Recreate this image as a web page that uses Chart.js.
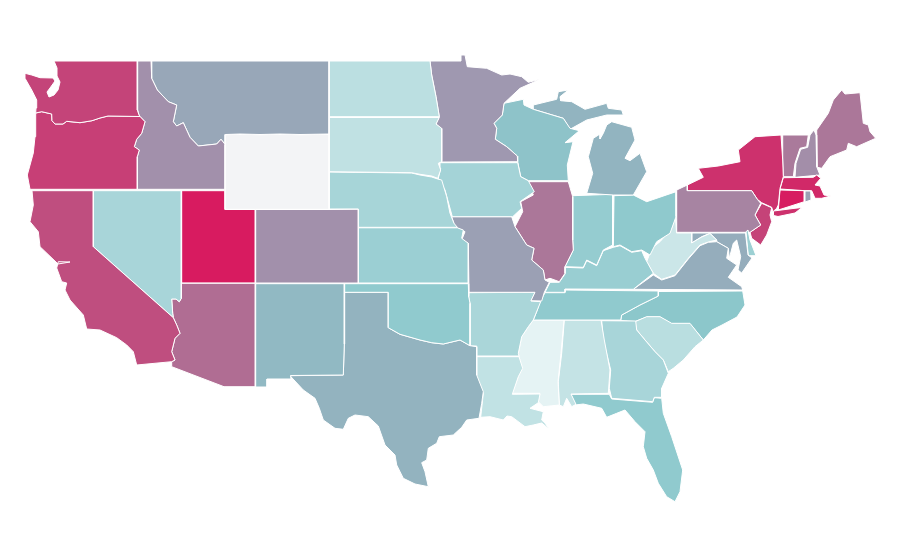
<!DOCTYPE html>
<html>
<head>
<meta charset="utf-8">
<title>US states</title>
<script src="https://cdn.jsdelivr.net/npm/chart.js@4"></script>
<style>
  html, body { margin: 0; padding: 0; background: #fff; }
  #wrap { width: 900px; height: 560px; }
</style>
</head>
<body>
<div id="wrap"><canvas id="map" width="900" height="560"></canvas></div>
<script>
// values, one per state (0-100 on the colour ramp)
const stateNames = ['WA','OR','CA','ID','NV','AZ','UT','MT','WY','CO','NM','ND','SD','NE','KS','OK','TX','MN','IA','MO','AR','LA','WI','IL','MI','IN','OH','KY','TN','MS','AL','GA','FL','SC','NC','VA','WV','MD','DE','PA','NY','NJ','CT','RI','MA','VT','NH','ME'];
const stateValues = [85,87,82,60,30.6,73,100,52.6,0,60,46,24,22.5,31,35,38.7,48.4,57.5,32,55,30,22,42,70,48,37,39,35.6,38.7,10,21,30.6,38.7,25,40.4,50.5,18.8,50.5,34.6,65,92,85.5,99.6,55,95,69,61,70];

// colour ramp
const rampValues = [0,10,40,50,60,70,85,100];
const rampColors = ['#f3f4f6','#e5f3f4','#8cc8cc','#94afbd','#a290ab','#ab7799','#c44479','#d81b60'];

// state outlines in map units, x,y,x,y...
const stateRings = {
  WA: [[54,61,137.3,61,137.3,110,139,115,140,116.5,108,116,100,118,92,120.7,80,122.7,66.7,121.3,63,124,55,124,52,120.7,51.7,114,41.7,111.7,35.7,113,36,108,36.7,100,31.7,90,25,78.3,25,73.3,31.7,75,40,77.7,53,78,55,81,50,88,47,92,49,97,54,95,58,90,60,82,57,76,57,68]],
  OR: [[35.7,113,41.7,111.7,51.7,114,52,120.7,55,124,63,124,66.7,121.3,80,122.7,92,120.7,100,118,108,116,140,116.5,145,121.7,141.7,133.3,136.7,139.3,134.3,146.7,139.3,150,137.3,156.7,137.3,189.3,30,189.3,27.3,175,33.3,153,35,136.7]],
  CA: [[32,190.7,93.3,190.7,93.3,246.7,173.3,317.7,176.7,325,180,333.3,175,338.3,171.7,351.7,175,360,171.7,361.7,136.7,365,133.3,351.7,126.7,345,116.7,337.7,100,330,86.7,329,83.3,315,70,300,65,290,66.7,283,61.7,281.7,56.7,268,58.3,261.7,70,262,58,264,56,262,40,246.7,38.3,231.7,30,221.7,33.3,205]],
  ID: [[137.7,61,151,61,151.7,78.3,157.3,90,168.3,101.7,176.7,105,173.3,121.7,176.7,126,183.3,122.7,190,137.3,198.3,146,216.7,144,221,139.3,225,144.3,225,189.3,137.3,189.3,137.3,156.7,139.3,150,134.3,146.7,136.7,139.3,141.7,133.3,145,121.7,140,116.5,139,115,137.7,110]],
  NV: [[93.3,190.7,181.3,190.7,181.3,298.3,179.3,301.7,176,299,171.7,299,172.7,313.3,173.3,317.7,93.3,246.7]],
  AZ: [[181.3,283.3,255.3,283.3,255.3,386.7,224,386.7,171.7,366.7,171.7,361.7,175,360,171.7,351.7,175,338.3,180,333.3,176.7,325,173.3,317.7,172.7,313.3,171.7,299,176,299,179.3,301.7,181.3,298.3]],
  UT: [[181.7,190.7,225,190.7,225,209.5,255.3,209.5,255.3,283,181.7,283]],
  MT: [[151,61,329,61,329,134,300,134.5,280,134,260,134.5,240,134,225.3,134.5,225,144.3,221,139.3,216.7,144,198.3,146,190,137.3,183.3,122.7,176.7,126,173.3,121.7,176.7,105,168.3,101.7,157.3,90,151.7,78.3]],
  WY: [[225.3,134.8,240,134.3,260,134.8,280,134.3,300,134.8,329,134.3,329,209.3,225.3,209.3]],
  CO: [[255.7,209.5,329,209.5,358.3,209.3,358.3,283,255.7,283]],
  NM: [[255.7,283.7,344.3,283.7,344.3,344,343.3,375,290.5,375.5,291,379,267,379,267,387,255.7,387]],
  ND: [[329.3,61,430,61,431.7,75,436,96.7,439.3,116.7,329.3,116.7]],
  SD: [[329.3,117.5,439.3,117.5,436,124,441.7,128.3,441.7,161.7,438.3,163.3,440.7,170,437.7,178.3,431.7,176,420,174.3,411.7,172.7,329.3,171.7]],
  NE: [[329.3,172,411.7,173,420,175,431.7,177,437.7,179,441.7,180,446.7,196.7,450,213.3,454,223.3,457.3,227.3,358.3,227.3,358.3,209,329.3,209]],
  KS: [[358.3,227.8,457.3,227.8,463.3,230,461.7,238.3,468.3,243.3,468.3,283,358.3,283]],
  OK: [[344.7,283.7,468.3,283.7,468.7,296.7,470,303.3,470,345.7,460,340,443.3,344,431.7,342.7,420,340,400,334.3,388.3,327.7,388.3,292.3,344.7,292.3]],
  TX: [[344.7,292.3,388.3,292.3,388.3,327.7,400,334.3,420,340,431.7,342.7,443.3,344,460,340,470,345.7,476.7,346.7,476.7,375,483.3,391.7,481.7,403.3,479,418.3,466.7,420,461.7,427.3,453.3,435,439.3,436.7,436.7,443.3,428.3,448.3,426.7,460,421.7,462.7,425,471.7,428.3,486.7,415,484,403.3,478.3,396.7,465,395,455,385,445,378.3,426,368.3,416.7,355,415,348.3,418.3,343.3,429.3,335,428.3,323.3,420,319.3,408.3,315,398.3,303.3,390,290,375.7,343.3,375,344.3,344]],
  MN: [[430,61,461,61,461,55,465,55,467.3,66.7,486.7,68.3,501.7,75,510,74,521.7,76.7,528.3,82.3,540,79.3,520,88.3,504,103.3,502.3,115,494,123.3,496.7,128.3,495.3,139.3,506.7,146.7,517.3,156,517.7,161.7,441.7,162,441.7,129,436,124,439.3,116.7,436,96.7,431.7,75]],
  IA: [[440,162.7,517.7,162.7,520.7,176.7,528.3,180.7,534.3,191.7,520,201.7,521.7,208.3,512.7,216.7,452.3,216.7,445,190,438.3,178.3,440.7,168.3]],
  MO: [[451.7,216.7,511.7,216.7,515,226.7,526.7,245,534,248.3,531.7,260,543.3,270,545,280,549.3,282.3,544.3,292.3,541.7,301,531,300.7,535,292.3,469,292.3,468.3,243.3,461.7,240,465,231.7,455,226.7]],
  AR: [[469,292.7,535,292.3,531,301,540.7,301.7,533.3,320,528.3,326.7,521.7,336.7,518.3,353.3,519,356,476.7,356,476.7,346,470,346,470,303.3,468.7,296.7]],
  LA: [[476.7,356.7,519,356.7,522.7,368.3,518.3,376.7,512.3,394.3,540,394,538.3,402.7,530,408.3,543.3,411.7,541.7,420,545,423,549.3,429.3,541.7,423,533.3,425,525,426.7,511.7,416.7,507,416,503.3,420,490,416.7,480.7,417.3,483.3,393.3,476.7,376.7]],
  WI: [[504,103.3,523.3,99.3,524,105,533.3,109.3,563.3,118.3,570,128.3,579.3,130.7,565,142.7,573,141.7,567.3,165,568.3,180.7,528.3,180.7,520.7,176.7,517.7,161.7,517.3,156,506.7,146.7,495.3,139.3,496.7,128.3,494,123.3,502.3,115]],
  IL: [[528.3,181.7,568.3,181.7,572.7,196.7,572.7,240,573.3,250,565,266.7,565,273.3,559.3,281.7,550,278.3,545,280,543.3,270,531.7,260,534,248.3,526.7,245,515,226.7,522.7,211.7,520.7,201.7,533.3,195]],
  MI: [[533.3,105,556.7,99.3,558.3,91.7,568.3,90,560,96.7,560.7,100.7,571.7,101.7,585,109.3,606.7,103.3,608.3,108.3,621.7,110,623.3,115,606.7,115,586.7,120,570,129.3,563.3,118.3,533.3,109.3],
       [611.7,121.7,631.7,127.3,635,140,625,158.3,630,160.7,640,153.3,646.7,171.7,633.3,195,613.3,195,586.7,193.3,592.7,173.3,588.3,156.7,593.3,138.3,600,134,600,139,603.3,133.3,606.7,125]],
  IN: [[572.7,195.7,612.7,194.3,612.7,245,603.3,250,596.7,265,586.7,260,583.3,267.3,565,266.7,573.3,250,572.7,240]],
  OH: [[614,195.7,633.3,195,646.7,201.7,676,191.7,676,216.7,670,233.3,656.7,241.7,650,255,641.7,250,631.7,251.7,620,245,613.3,246.7]],
  KY: [[613.3,247.3,620,245.7,631.7,252.3,641.7,250.7,645,258.3,653.3,273.3,633.3,289.3,565,289,565,292.3,545,292.3,550,282.3,559.3,282.3,565,274,565,267.3,583.3,268,586.7,260.7,596.7,265.7,603.3,250.7]],
  TN: [[545,292.7,565,292.7,565,290,658.3,291,658.3,296,640,305,621.7,315,620.7,320,533.3,320,537.3,310,540,301.7]],
  MS: [[533.3,320,564,320,561,353.3,558,381.7,559.3,405,543.3,406.7,538.3,401.7,540,393.3,512.3,393.3,518.3,376.7,521.7,368.3,518.3,353.3,521.7,336.7,528.3,326.7]],
  AL: [[564.3,320,601,320,604.3,340,610,370,608.3,393.3,571,394,576,404.3,571.7,406.7,566.7,398.3,563.3,406.7,559.3,405,558.3,381.7,561.7,353.3]],
  GA: [[601.7,320.7,635.7,321,636.7,330,645,340,655,351.7,663.3,360,668.3,373.3,661.7,388.3,661.7,397.3,654.3,397.3,652.7,401.7,611.7,398.3,609.3,388.3,610.7,370,603.3,340]],
  FL: [[571,394.3,609.3,394.3,611.7,399,652.7,402.3,654.3,397.7,661.7,398.3,663.3,413.3,671.7,436.7,682.7,470,680,491.7,675,501.7,666.7,496.7,658.3,483.3,653.3,470,646.7,458.3,643.3,446.7,645,431.7,635,421.7,625,410,616.7,413.3,606.7,417.3,601.7,408.3,583.3,404,575,405]],
  SC: [[635,321.7,646.7,316.7,660,316.7,671.7,323.3,690,323.3,703.3,340,695,346.7,683.3,360,673.3,368.3,668.3,371.7,663.3,360,655,351.7,645,340,636.7,330]],
  NC: [[658.3,291.5,742.7,291,745,305,737,317,722,325,712,330,703.3,340,690,323.8,671.7,323.8,660,317,646.7,317,635,321.5,620.7,320.5,621.7,315,640,305,658.3,296]],
  VA: [[633.3,289.3,653.3,275,661.7,280,675,275.7,688.3,259,700,245.7,708.3,242.3,716.7,241.7,728.3,248.3,726.7,258.3,736.7,265,728.3,277.3,741.7,286.7,742.7,290]],
  WV: [[675.5,217,676.5,233,691.7,233,691.7,243,701.7,237,710,233.5,716.7,240,708.3,242,700,245,688.3,258.3,675,275,661.7,279.3,653.3,273.3,646.7,261.7,651.7,248.3,660,241.7,671.7,228.3]],
  MD: [[691.7,233,745.5,233,748,255,752,258,741.7,273,738,270,740.7,256.7,736.7,240,733.3,243.3,729.3,258.3,728.3,248.3,716.7,241.7,716.7,240,710,233.3,701.7,236.7,691.7,243]],
  DE: [[746,231.7,748,230,750,240,756,255.7,748.3,255.7]],
  PA: [[676.7,190,687.3,185,687.3,190.7,751.7,190.7,757.3,199.3,760.7,203.3,755,215,760.7,225,750,232.3,676.7,232.3]],
  NY: [[687.3,185,703.3,177.3,698.3,168.3,718.3,166,740,161.7,738.3,150,755,136.7,781,135,782.7,160,783.3,176.7,780,188.3,778.3,205,776.7,208.3,773,211.7,771.7,207.3,761.7,202.7,757.3,199.3,751.7,190.7,687.3,190.7],
       [773.5,211,793,208.5,802,207.5,795,213,778,216.5,773.5,215.5]],
  NJ: [[761.7,203.3,771.7,207.7,770,215,771.7,221.7,766.7,235,760.7,245,751.7,238.3,750,232.3,760.7,225,755,215]],
  CT: [[780,190,804.3,190.7,804.3,201.7,778.3,210]],
  RI: [[805,191,810.7,191,811,200,805,202]],
  MA: [[783.3,177.7,813.3,177.3,816.7,175,820.7,178.3,815,185,820,186,824,195,830.7,196,821.7,198.3,815,198.3,811.7,190.7,805,190.7,780,189]],
  VT: [[782.7,135,808.3,135,806.7,146.7,800,148.3,795,163.3,793.3,176.7,783.3,176.7,782.7,160]],
  NH: [[810,135,814,130,816,135,816.7,166.7,820,175,795,177.3,796,163.3,800.7,149.3,807.7,147.3]],
  ME: [[816.7,130,828.3,113.3,833.3,100,841.7,90,845,94,860,92.7,863.3,123.3,868.3,125,870,131.7,875.7,138.3,856.7,146.7,848.3,143.3,846.7,150,830,156.7,821.7,168.3,817.3,167.3]]
};

function hexToRgb(hex){
  return [1, 3, 5].map(function(i){ return parseInt(hex.substr(i, 2), 16); });
}

function rampColor(value){
  let i = 0;
  while(i < rampValues.length - 2 && value > rampValues[i + 1]){
    i++;
  }
  let t = (value - rampValues[i]) / (rampValues[i + 1] - rampValues[i]);
  let a = hexToRgb(rampColors[i]);
  let b = hexToRgb(rampColors[i + 1]);
  let c = a.map(function(v, k){ return Math.round(v + (b[k] - v) * t); });
  return 'rgb(' + c.join(',') + ')';
}

function ringPoints(ring){
  let points = [];
  for(let i = 0; i < ring.length; i += 2){
    points.push({x: ring[i], y: ring[i + 1]});
  }
  points.push({x: ring[0], y: ring[1]});
  return points;
}

let datasets = [];
stateNames.forEach(function(name, i){
  stateRings[name].forEach(function(ring){
    datasets.push({
      label: name,
      data: ringPoints(ring),
      showLine: true,
      fill: 'shape',
      backgroundColor: rampColor(stateValues[i]),
      borderColor: '#ffffff',
      borderWidth: 1,
      pointRadius: 0,
      pointHoverRadius: 0,
      tension: 0
    });
  });
});

new Chart(document.getElementById('map').getContext('2d'), {
  type: 'scatter',
  data: { datasets: datasets },
  options: {
    responsive: false,
    animation: false,
    layout: { padding: 0 },
    plugins: { legend: { display: false }, tooltip: { enabled: false }, title: { display: false } },
    scales: {
      x: { type: 'linear', min: 0, max: 900, display: false },
      y: { type: 'linear', min: 0, max: 560, reverse: true, display: false }
    }
  }
});
</script>
</body>
</html>
